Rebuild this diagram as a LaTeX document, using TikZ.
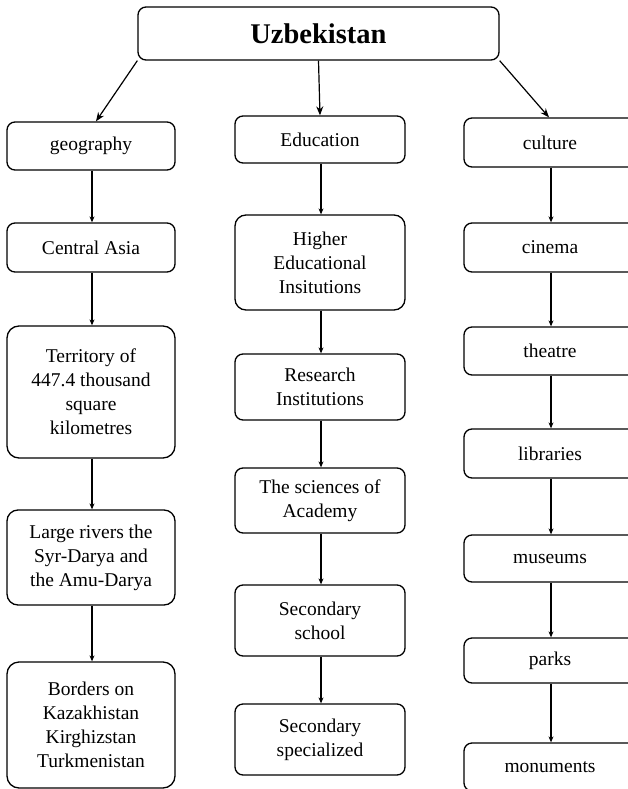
\documentclass[tikz,border=0pt]{standalone}
\usepackage{fontspec}
\setmainfont{Liberation Serif}
\usetikzlibrary{arrows.meta}
\begin{document}
\begin{tikzpicture}[x=1pt,y=-1pt,
  box/.style={draw, line width=1.3pt, rounded corners=8pt, align=center,
    inner sep=0pt, font=\fontsize{19.5}{24}\selectfont},
  gcol/.style={box, minimum width=168pt},
  ecol/.style={box, minimum width=170pt},
  ccol/.style={box, minimum width=172pt},
  link/.style={line width=1.1pt, -{Stealth[length=6pt,width=5pt]}},
  toplink/.style={line width=1.2pt, -{Stealth[length=9pt,width=7pt]}}]
\clip (0,0) rectangle (628,789);
\fill[white] (0,0) rectangle (628,789);

% root
\node[box, minimum width=361pt, minimum height=53pt,
  font=\fontsize{28.5}{32}\selectfont\bfseries] (top) at (318.5,33.5) {Uzbekistan};

% geography column
\node[gcol, minimum height=48pt]  (geo)  at (91,146)   {geography};
\node[gcol, minimum height=49pt]  (ca)   at (91,247.5) {Central Asia};
\node[gcol, minimum height=132pt, rounded corners=12pt] (terr) at (91,392)
  {Territory of\\447.4 thousand\\square\\kilometres};
\node[gcol, minimum height=95pt, rounded corners=11pt]  (riv)  at (91,557.5)
  {Large rivers the\\Syr-Darya and\\the Amu-Darya};
\node[gcol, minimum height=126pt, rounded corners=12pt] (bord) at (91,725)
  {Borders on\\Kazakhistan\\Kirghizstan\\Turkmenistan};

% education column
\node[ecol, minimum height=47pt]  (edu)  at (320,139.5) {Education};
\node[ecol, minimum height=95pt, rounded corners=11pt] (high) at (320,262.5)
  {Higher\\Educational\\Insitutions};
\node[ecol, minimum height=66pt]  (res)  at (320,387)   {Research\\Institutions};
\node[ecol, minimum height=65pt]  (sci)  at (320,500.5) {The sciences of\\Academy};
\node[ecol, minimum height=71pt]  (sec)  at (320,620.5) {Secondary\\school};
\node[ecol, minimum height=71pt]  (spec) at (320,739.5) {Secondary\\specialized};

% culture column
\node[ccol, minimum height=49pt]  (cul)  at (550,142.5) {culture};
\node[ccol, minimum height=49pt]  (cin)  at (550,247.5) {cinema};
\node[ccol, minimum height=48pt]  (the)  at (550,351)   {theatre};
\node[ccol, minimum height=49pt]  (lib)  at (550,453.5) {libraries};
\node[ccol, minimum height=47pt]  (mus)  at (550,558.5) {museums};
\node[ccol, minimum height=45pt]  (park) at (550,660.5) {parks};
\node[ccol, minimum height=48pt]  (mon)  at (550,767)   {monuments};

% links from the root
\draw[toplink] (top.south west) -- ([xshift=5pt]geo.north);
\draw[toplink] (top.south) -- (edu.north);
\draw[toplink] (top.south east) -- ([xshift=-1pt]cul.north);

% chains
\foreach \a/\b in {geo/ca, ca/terr, terr/riv, riv/bord,
                   edu/high, high/res, res/sci, sci/sec, sec/spec,
                   cul/cin, cin/the, the/lib, lib/mus, mus/park, park/mon}
  \draw[link] ([xshift=1pt]\a.south) -- ([xshift=1pt]\b.north);
\end{tikzpicture}
\end{document}
